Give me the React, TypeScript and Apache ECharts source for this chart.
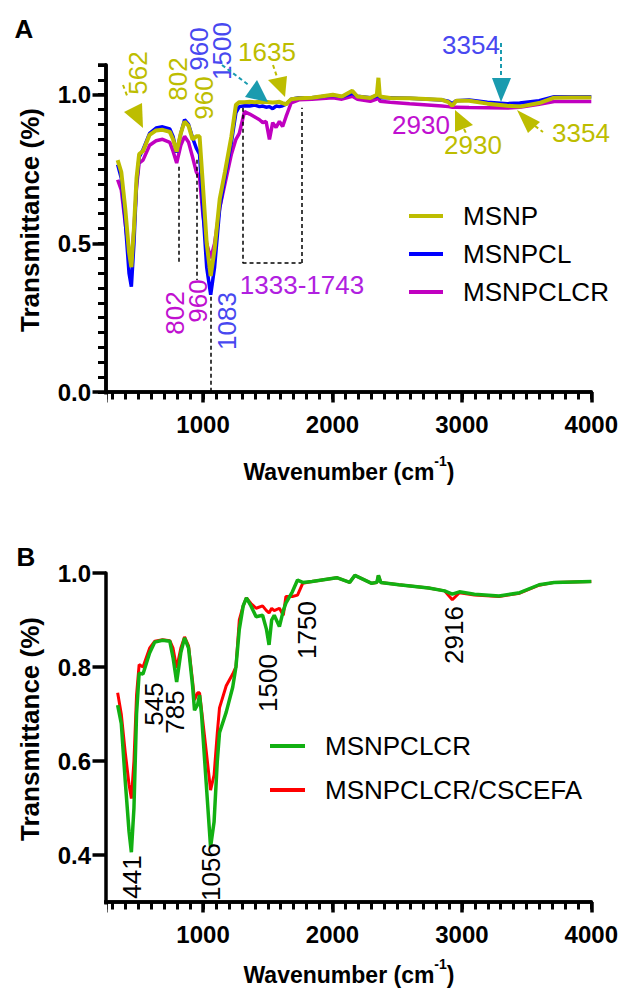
import React, { useEffect, useRef } from 'react';
import * as echarts from 'echarts';

// ---------- Panel A data (wavenumber, transmittance) ----------
const wnA = [340, 368, 398, 428, 446, 466, 486, 506, 536, 587, 637, 687, 743, 768, 796, 828, 857, 888, 919, 948, 973, 998, 1028, 1059, 1089, 1129, 1169, 1219, 1254, 1280, 1320, 1360, 1400, 1436, 1462, 1487, 1513, 1538, 1564, 1590, 1615, 1641, 1681, 1741, 1842, 2003, 2073, 2153, 2193, 2293, 2343, 2355, 2366, 2446, 2596, 2846, 2896, 2926, 2956, 3056, 3197, 3350, 3447, 3597, 3713, 3849, 4000];
const msnp = [0.78, 0.74, 0.62, 0.47, 0.42, 0.55, 0.72, 0.80, 0.81, 0.865, 0.88, 0.882, 0.875, 0.85, 0.808, 0.87, 0.91, 0.895, 0.85, 0.86, 0.86, 0.70, 0.50, 0.39, 0.48, 0.65, 0.74, 0.86, 0.966, 0.975, 0.975, 0.976, 0.975, 0.976, 0.975, 0.976, 0.975, 0.974, 0.975, 0.976, 0.972, 0.968, 0.985, 0.988, 0.99, 1.0, 0.994, 1.013, 0.994, 0.989, 1.0, 1.057, 0.994, 0.989, 0.988, 0.983, 0.975, 0.963, 0.98, 0.98, 0.97, 0.963, 0.96, 0.972, 0.99, 0.991, 0.991];
const msnpcl = [0.765, 0.72, 0.58, 0.40, 0.354, 0.50, 0.70, 0.79, 0.815, 0.87, 0.888, 0.892, 0.885, 0.86, 0.805, 0.87, 0.916, 0.9, 0.855, 0.82, 0.80, 0.62, 0.42, 0.327, 0.42, 0.62, 0.72, 0.84, 0.94, 0.96, 0.963, 0.962, 0.965, 0.96, 0.962, 0.958, 0.96, 0.953, 0.962, 0.96, 0.963, 0.968, 0.985, 0.99, 0.99, 0.998, 0.993, 1.005, 0.995, 0.99, 0.995, 1.01, 0.99, 0.99, 0.988, 0.982, 0.978, 0.97, 0.98, 0.982, 0.975, 0.97, 0.972, 0.98, 0.993, 0.993, 0.993];
const msnpclcrA = [0.714, 0.68, 0.57, 0.46, 0.44, 0.55, 0.69, 0.77, 0.78, 0.83, 0.845, 0.85, 0.84, 0.81, 0.77, 0.83, 0.86, 0.84, 0.79, 0.74, 0.72, 0.60, 0.50, 0.45, 0.50, 0.62, 0.70, 0.80, 0.85, 0.87, 0.943, 0.935, 0.925, 0.916, 0.906, 0.91, 0.85, 0.906, 0.89, 0.91, 0.893, 0.926, 0.973, 0.983, 0.985, 0.99, 0.985, 0.995, 0.985, 0.978, 0.985, 0.995, 0.978, 0.975, 0.97, 0.962, 0.96, 0.958, 0.958, 0.957, 0.956, 0.955, 0.958, 0.968, 0.977, 0.977, 0.977];

// ---------- Panel B data ----------
const wnB = [340, 368, 398, 428, 446, 466, 486, 506, 536, 587, 627, 687, 743, 768, 796, 828, 857, 888, 919, 934, 958, 973, 988, 1025, 1058, 1085, 1110, 1127, 1179, 1229, 1254, 1280, 1310, 1335, 1370, 1410, 1460, 1490, 1510, 1530, 1550, 1590, 1620, 1640, 1690, 1730, 1770, 1842, 2033, 2133, 2173, 2303, 2343, 2355, 2373, 2513, 2743, 2866, 2926, 2981, 3097, 3287, 3447, 3597, 3713, 4000];
const msnpclcrB = [0.719, 0.68, 0.56, 0.45, 0.406, 0.50, 0.70, 0.787, 0.785, 0.83, 0.853, 0.857, 0.855, 0.82, 0.768, 0.83, 0.862, 0.84, 0.76, 0.708, 0.72, 0.74, 0.70, 0.55, 0.417, 0.47, 0.60, 0.66, 0.704, 0.757, 0.80, 0.88, 0.93, 0.947, 0.93, 0.907, 0.91, 0.88, 0.847, 0.9, 0.91, 0.886, 0.92, 0.936, 0.96, 0.985, 0.98, 0.982, 0.99, 0.98, 0.995, 0.978, 0.98, 0.995, 0.98, 0.975, 0.968, 0.962, 0.955, 0.96, 0.955, 0.951, 0.958, 0.975, 0.98, 0.982];
const cscefa = [0.745, 0.70, 0.62, 0.55, 0.52, 0.60, 0.74, 0.805, 0.80, 0.84, 0.855, 0.858, 0.856, 0.84, 0.798, 0.84, 0.864, 0.845, 0.77, 0.73, 0.745, 0.745, 0.71, 0.62, 0.538, 0.57, 0.66, 0.713, 0.76, 0.785, 0.80, 0.90, 0.93, 0.947, 0.935, 0.925, 0.93, 0.92, 0.915, 0.925, 0.92, 0.925, 0.91, 0.95, 0.95, 0.953, 0.978, 0.982, 0.99, 0.98, 0.995, 0.978, 0.98, 0.995, 0.98, 0.975, 0.968, 0.962, 0.943, 0.958, 0.953, 0.95, 0.957, 0.974, 0.98, 0.982];

// ---------- Tick labels ----------
const xMajorTicks = [1000, 2000, 3000, 4000];
const yMajorA = [0, 0.5, 1.0];
const yMajorB = [0.4, 0.6, 0.8, 1.0];

const FONT = '"Liberation Sans", Arial, Helvetica, sans-serif';
const YEL = '#BDBD00';
const BLU = '#0000FF';
const MAG = '#C000C0';
const TEAL = '#1A9BAF';
const BLUTXT = '#4848F0';
const MAGTXT = '#C010D0';

const pairs = (xs: number[], ys: number[]) => xs.map((x, i) => [x, ys[i]]);

const axisLine = { show: true, onZero: false, lineStyle: { color: '#000', width: 3.5 } };
const tickLabel = { fontSize: 24, fontWeight: 'bold', color: '#000', fontFamily: FONT };

function xAxes(grid: number) {
  return [
    {
      gridIndex: grid, type: 'value', min: 250, max: 4000, position: 'bottom',
      splitNumber: 37, minInterval: 100, maxInterval: 100,
      axisLine, splitLine: { show: false },
      axisTick: { show: true, length: 7.5, lineStyle: { color: '#000', width: 3 } },
      axisLabel: { show: false },
    },
    {
      gridIndex: grid, type: 'value', min: 250, max: 4000, position: 'bottom',
      splitNumber: 4, minInterval: 1000, maxInterval: 1000,
      axisLine, splitLine: { show: false },
      axisTick: { show: true, length: 10.5, lineStyle: { color: '#000', width: 3.5 } },
      axisLabel: { ...tickLabel, customValues: xMajorTicks, margin: 20, formatter: (v: number) => String(v) },
    },
  ];
}

const vText = (text: string, x: number, y: number, fill: string, bold = false) => ({
  type: 'text', x, y, rotation: Math.PI / 2, z: 100,
  style: { text, fill, font: `${bold ? 'bold ' : ''}26px ${FONT}`, align: 'center', verticalAlign: 'middle', textAlign: 'center', textVerticalAlign: 'middle' },
});
const hText = (text: string, x: number, y: number, fill: string, bold = false) => ({
  type: 'text', x, y, z: 100,
  style: { text, fill, font: `${bold ? 'bold ' : ''}26px ${FONT}`, align: 'center', verticalAlign: 'middle', textAlign: 'center', textVerticalAlign: 'middle' },
});
const tri = (pts: number[][], fill: string) => ({ type: 'polygon', z: 100, shape: { points: pts }, style: { fill } });
const dash = (x1: number, y1: number, x2: number, y2: number, stroke: string) => ({
  type: 'line', z: 100, shape: { x1, y1, x2, y2 }, style: { stroke, lineWidth: 2, lineDash: [4, 3] },
});
const mask = (x: number, y: number, width: number, height: number) => ({
  type: 'rect', z: 100, silent: true, shape: { x, y, width, height }, style: { fill: '#fff' },
});
const xTitle = (y: number) => ({
  type: 'text', x: 349, y, z: 100,
  style: {
    text: '{a|Wavenumber (cm}{s|-1}{a|)}',
    align: 'center', verticalAlign: 'middle', textAlign: 'center', textVerticalAlign: 'middle',
    rich: {
      a: { fontSize: 23, fontWeight: 'bold', fontFamily: FONT, fill: '#000', lineHeight: 36 },
      s: { fontSize: 14, fontWeight: 'bold', fontFamily: FONT, fill: '#000', verticalAlign: 'top', lineHeight: 14 },
    },
  },
});

const dashedMark = {
  symbol: 'none', silent: true, label: { show: false },
  lineStyle: { color: '#000', type: [4, 3], width: 1.5 },
  data: [
    [{ coord: [811, 0.758] }, { coord: [811, 0.434] }],
    [{ coord: [950, 0.781] }, { coord: [950, 0.377] }],
    [{ coord: [1058, 0.32] }, { coord: [1058, 0] }],
    [{ coord: [1305, 0.956] }, { coord: [1305, 0.434] }],
    [{ coord: [1305, 0.434] }, { coord: [1760, 0.434] }],
    [{ coord: [1760, 0.434] }, { coord: [1760, 0.956] }],
  ],
};

export default function App() {
  const ref = useRef<HTMLDivElement>(null);
  useEffect(() => {
    document.body.style.margin = '0';
    const chart = echarts.init(ref.current!, null, { renderer: 'svg' });
    chart.setOption({
      animation: false,
      backgroundColor: '#fff',
      grid: [
        { left: 106, top: 65, width: 486, height: 327 },
        { left: 106, top: 573, width: 486, height: 329 },
      ],
      xAxis: [...xAxes(0), ...xAxes(1)],
      yAxis: [
        {
          gridIndex: 0, type: 'value', min: 0, max: 1.1, position: 'left', axisLine, splitLine: { show: false },
          splitNumber: 2, minInterval: 0.5, maxInterval: 0.5,
          axisTick: { show: true, length: 13.5, lineStyle: { color: '#000', width: 3.5 } },
          axisLabel: { ...tickLabel, customValues: yMajorA, margin: 15, formatter: (v: number) => v.toFixed(1) },
        },
        {
          gridIndex: 0, type: 'value', min: 0, max: 1.1, position: 'left', axisLine, splitLine: { show: false },
          splitNumber: 22, minInterval: 0.05, maxInterval: 0.05,
          axisTick: { show: true, length: 8, lineStyle: { color: '#000', width: 3 } },
          axisLabel: { show: false },
        },
        {
          gridIndex: 1, type: 'value', min: 0.3, max: 1.0, position: 'left', axisLine, splitLine: { show: false },
          splitNumber: 4, minInterval: 0.2, maxInterval: 0.2,
          axisTick: { show: true, length: 13.5, lineStyle: { color: '#000', width: 3.5 } },
          axisLabel: { ...tickLabel, customValues: yMajorB, margin: 15, formatter: (v: number) => v.toFixed(1) },
        },
      ],
      legend: [
        {
          data: ['MSNP', 'MSNPCL', 'MSNPCLCR'], orient: 'vertical', left: 404, top: 198,
          itemWidth: 34, itemHeight: 4, itemGap: 12, icon: 'rect', selectedMode: false,
          textStyle: { fontSize: 26, fontFamily: FONT, color: '#000', lineHeight: 26, padding: [0, 0, 0, 15] },
        },
        {
          data: ['MSNPCLCR (B)', 'MSNPCLCR/CSCEFA'], orient: 'vertical', left: 265, top: 728,
          itemWidth: 35, itemHeight: 4, itemGap: 18, icon: 'rect', selectedMode: false,
          formatter: (n: string) => n.replace(' (B)', ''),
          textStyle: { fontSize: 26, fontFamily: FONT, color: '#000', lineHeight: 26, padding: [0, 0, 0, 15] },
        },
      ],
      series: [
        {
          name: 'MSNPCLCR', type: 'line', xAxisIndex: 1, yAxisIndex: 0, showSymbol: false, color: MAG,
          lineStyle: { width: 3.5, color: MAG }, data: pairs(wnA, msnpclcrA), markLine: dashedMark,
        },
        {
          name: 'MSNPCL', type: 'line', xAxisIndex: 1, yAxisIndex: 0, showSymbol: false, color: BLU,
          lineStyle: { width: 3.5, color: BLU }, data: pairs(wnA, msnpcl),
        },
        {
          name: 'MSNP', type: 'line', xAxisIndex: 1, yAxisIndex: 0, showSymbol: false, color: YEL,
          lineStyle: { width: 4, color: YEL }, data: pairs(wnA, msnp),
        },
        {
          name: 'MSNPCLCR/CSCEFA', type: 'line', xAxisIndex: 3, yAxisIndex: 2, showSymbol: false, color: '#FF0000',
          lineStyle: { width: 3, color: '#FF0000' }, data: pairs(wnB, cscefa),
        },
        {
          name: 'MSNPCLCR (B)', type: 'line', xAxisIndex: 3, yAxisIndex: 2, showSymbol: false, color: '#12B012',
          lineStyle: { width: 3.5, color: '#12B012' }, data: pairs(wnB, msnpclcrB),
        },
      ],
      graphic: [
        // hide the extra ticks ECharts adds at the axis extents
        mask(103, 394.5, 4.2, 12),
        mask(103, 904.5, 4.2, 12),
        mask(88, 899.2, 16, 5.6),
        mask(88, 62.5, 10, 5.5),
        hText('A', 24, 29, '#000', true),
        hText('B', 26, 557, '#000', true),
        vText('Transmittance (%)', 30, 220, '#000', true),
        vText('Transmittance (%)', 30, 729, '#000', true),
        xTitle(472),
        xTitle(975),
        // Panel A annotations
        vText('562', 138, 73, YEL),
        dash(123, 85, 128, 98, YEL),
        tri([[124, 112], [142, 103], [143, 128]], YEL),
        vText('802', 178, 79, YEL),
        vText('960', 204, 98, YEL),
        vText('960', 199, 49, BLUTXT),
        vText('1500', 222, 51, BLUTXT),
        dash(222, 65, 250, 86, TEAL),
        tri([[245, 97], [257, 80], [268, 102]], TEAL),
        hText('1635', 267, 52, YEL),
        dash(273, 65, 277, 77, YEL),
        tri([[268, 80], [287, 76], [285, 97]], YEL),
        hText('3354', 471, 45, BLUTXT),
        dash(501, 43, 501, 78, TEAL),
        tri([[492, 78], [511, 78], [501, 102]], TEAL),
        hText('2930', 421, 125, MAGTXT),
        tri([[455, 110], [473, 125], [455, 132]], YEL),
        dash(464, 129, 466, 133, YEL),
        hText('2930', 473, 145, YEL),
        tri([[517, 110], [540, 122], [528, 133]], YEL),
        dash(535, 126, 543, 132, YEL),
        hText('3354', 581, 133, YEL),
        vText('802', 175, 313, MAGTXT),
        vText('960', 198, 301, MAGTXT),
        vText('1083', 227, 321, BLUTXT),
        hText('1333-1743', 302, 285, '#B020E0'),
        // Panel B annotations
        vText('545', 154, 704, '#000'),
        vText('785', 175, 712, '#000'),
        vText('1500', 268, 683, '#000'),
        vText('1750', 307, 630, '#000'),
        vText('2916', 454, 635, '#000'),
        vText('441', 132, 877, '#000'),
        vText('1056', 211, 872, '#000'),
      ],
    });
    return () => chart.dispose();
  }, []);
  return <div ref={ref} style={{ width: 621, height: 992, overflow: 'hidden' }} />;
}
